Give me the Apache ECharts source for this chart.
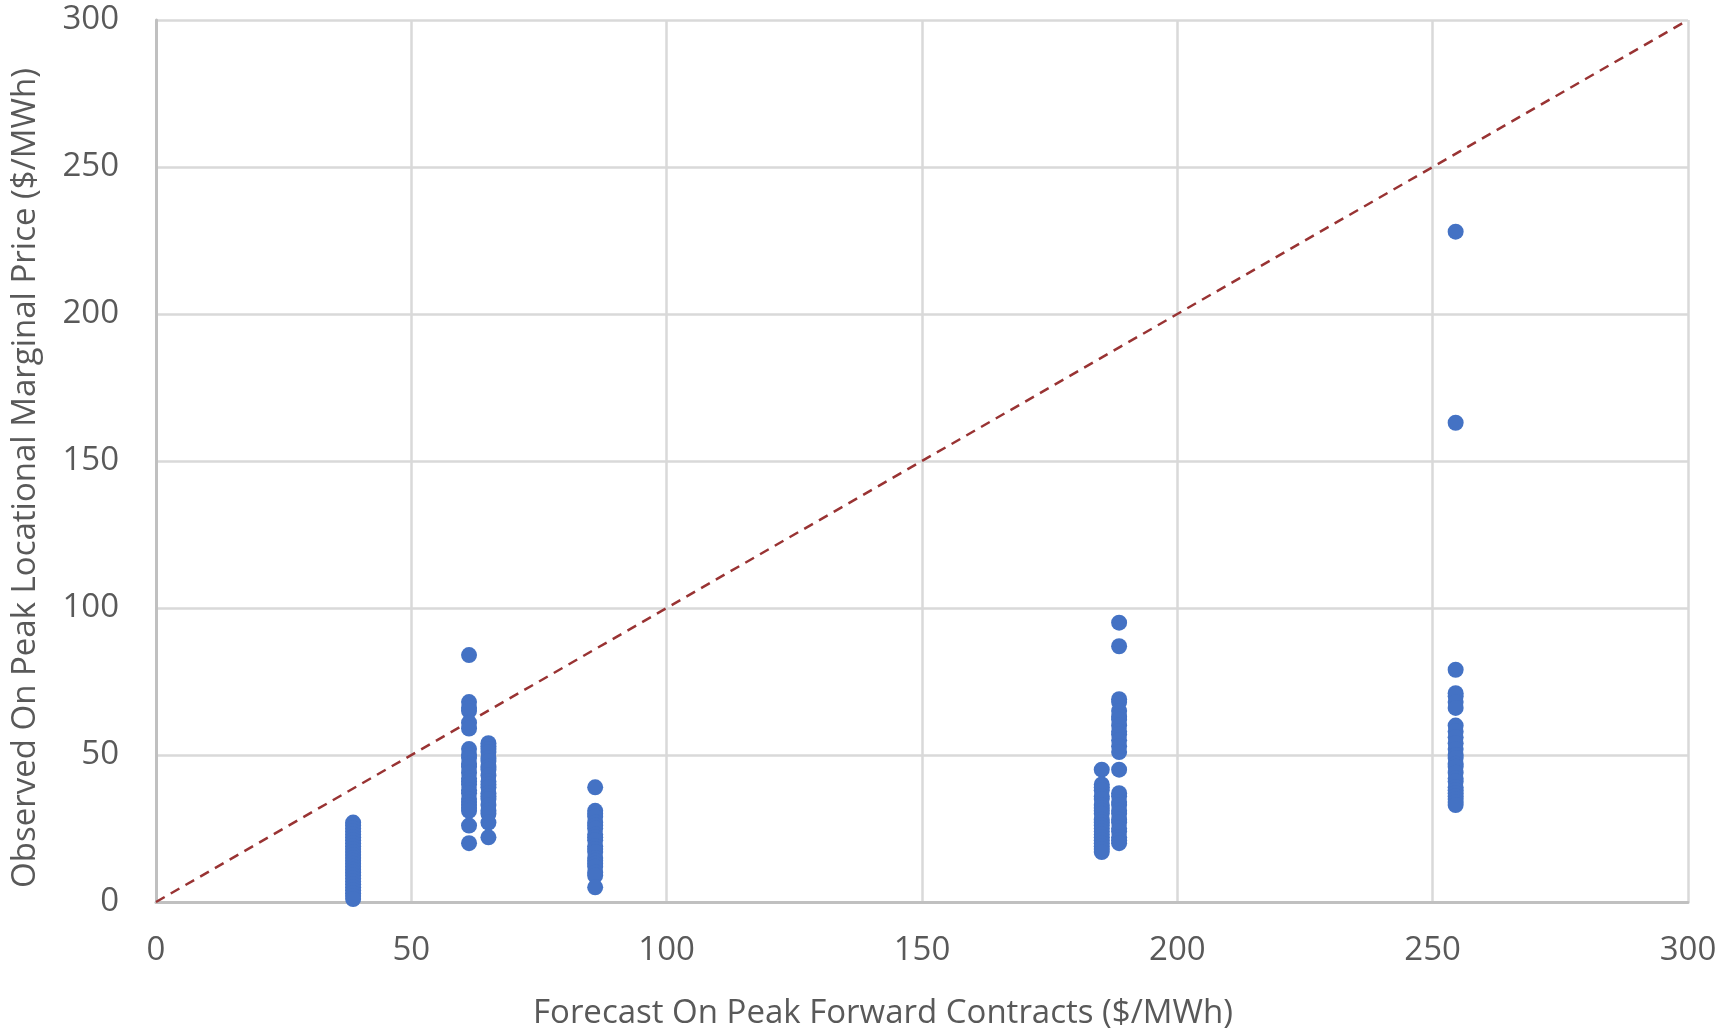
<!DOCTYPE html>
<html>
<head>
<meta charset="utf-8">
<script src="https://cdn.jsdelivr.net/npm/echarts@6/dist/echarts.min.js"></script>
<style>
html,body{margin:0;padding:0;background:#fff;}
#chart{width:1733px;height:1031px;}
</style>
</head>
<body>
<div id="chart"></div>
<script>
// Forecast (x) value for each cluster of observations
const clusterX = [38.6, 61.3, 65.1, 86.0, 185.2, 188.6, 254.5];
// Observed prices per cluster
const obs1 = [27, 26, 25, 24, 23, 22, 21, 20, 19, 18, 17, 16, 15, 14, 13, 12, 11, 10, 9, 8, 7, 6, 5, 4, 3, 2, 1];
const obs2 = [84, 68, 66, 65, 61, 59, 52, 50, 49, 47, 46, 44, 42, 41, 40, 38, 37, 35, 34, 33, 32, 31, 26, 20];
const obs3 = [54, 53, 52, 51, 49, 48, 46, 45, 43, 41, 40, 39, 37, 36, 35, 33, 31, 30, 27, 22];
const obs4 = [39, 31, 30, 29, 27, 26, 25, 23, 22, 21, 19, 18, 17, 15, 14, 13, 12, 10, 9, 5];
const obs5 = [45, 40, 39, 38, 36, 35, 33, 32, 31, 30, 28, 27, 26, 25, 24, 23, 22, 21, 20, 19, 18, 17];
const obs6 = [95, 87, 69, 68, 65, 63, 62, 60, 58, 57, 55, 53, 51, 45, 37, 36, 34, 33, 31, 30, 28, 27, 25, 24, 22, 21, 20];
const obs7 = [228, 163, 79, 71, 70, 68, 66, 60, 58, 56, 54, 52, 50, 49, 47, 46, 44, 42, 41, 39, 38, 37, 36, 35, 34, 33];
// Reference 1:1 line endpoints
const refLine = [[0, 0], [300, 300]];
const axisTicks = [0, 50, 100, 150, 200, 250, 300];
const xTitle = 'Forecast On Peak Forward Contracts ($/MWh)';
const yTitle = 'Observed On Peak Locational Marginal Price ($/MWh)';

const groups = [obs1, obs2, obs3, obs4, obs5, obs6, obs7];
const points = [];
groups.forEach((ys, i) => ys.forEach(y => points.push([clusterX[i], y])));

const chart = echarts.init(document.getElementById('chart'));
const labelStyle = {color: '#595959', fontSize: 33, fontFamily: 'Open Sans'};
chart.setOption({
  animation: false,
  backgroundColor: '#ffffff',
  grid: {left: 156, top: 20, right: 45, bottom: 129, containLabel: false},
  xAxis: {
    type: 'value', min: axisTicks[0], max: axisTicks[axisTicks.length - 1], interval: 50,
    axisLine: {show: true, lineStyle: {color: '#c0c0c0', width: 3}},
    axisTick: {show: false},
    splitLine: {show: true, lineStyle: {color: '#d9d9d9', width: 2.5}},
    axisLabel: Object.assign({margin: 32}, labelStyle)
  },
  yAxis: {
    type: 'value', min: axisTicks[0], max: axisTicks[axisTicks.length - 1], interval: 50,
    axisLine: {show: true, lineStyle: {color: '#c0c0c0', width: 3}},
    axisTick: {show: false},
    splitLine: {show: true, lineStyle: {color: '#d9d9d9', width: 2.5}},
    axisLabel: Object.assign({margin: 37}, labelStyle)
  },
  graphic: [
    {type: 'text', left: 533, top: 997, style: {text: xTitle, fill: '#595959', fontSize: 33, fontFamily: 'Open Sans'}},
    {type: 'text', x: 9, y: 478, rotation: Math.PI / 2, style: {text: yTitle, fill: '#595959', fontSize: 33, fontFamily: 'Open Sans', align: 'center', verticalAlign: 'top'}, z: 10}
  ],
  series: [
    {
      type: 'line', data: refLine, symbol: 'none', z: 3,
      lineStyle: {color: '#993333', width: 2.5, type: [10, 7]}
    },
    {
      type: 'scatter', data: points, symbol: 'circle', symbolSize: 16, z: 4,
      itemStyle: {color: '#4472c4', opacity: 1}
    }
  ]
});
</script>
</body>
</html>
